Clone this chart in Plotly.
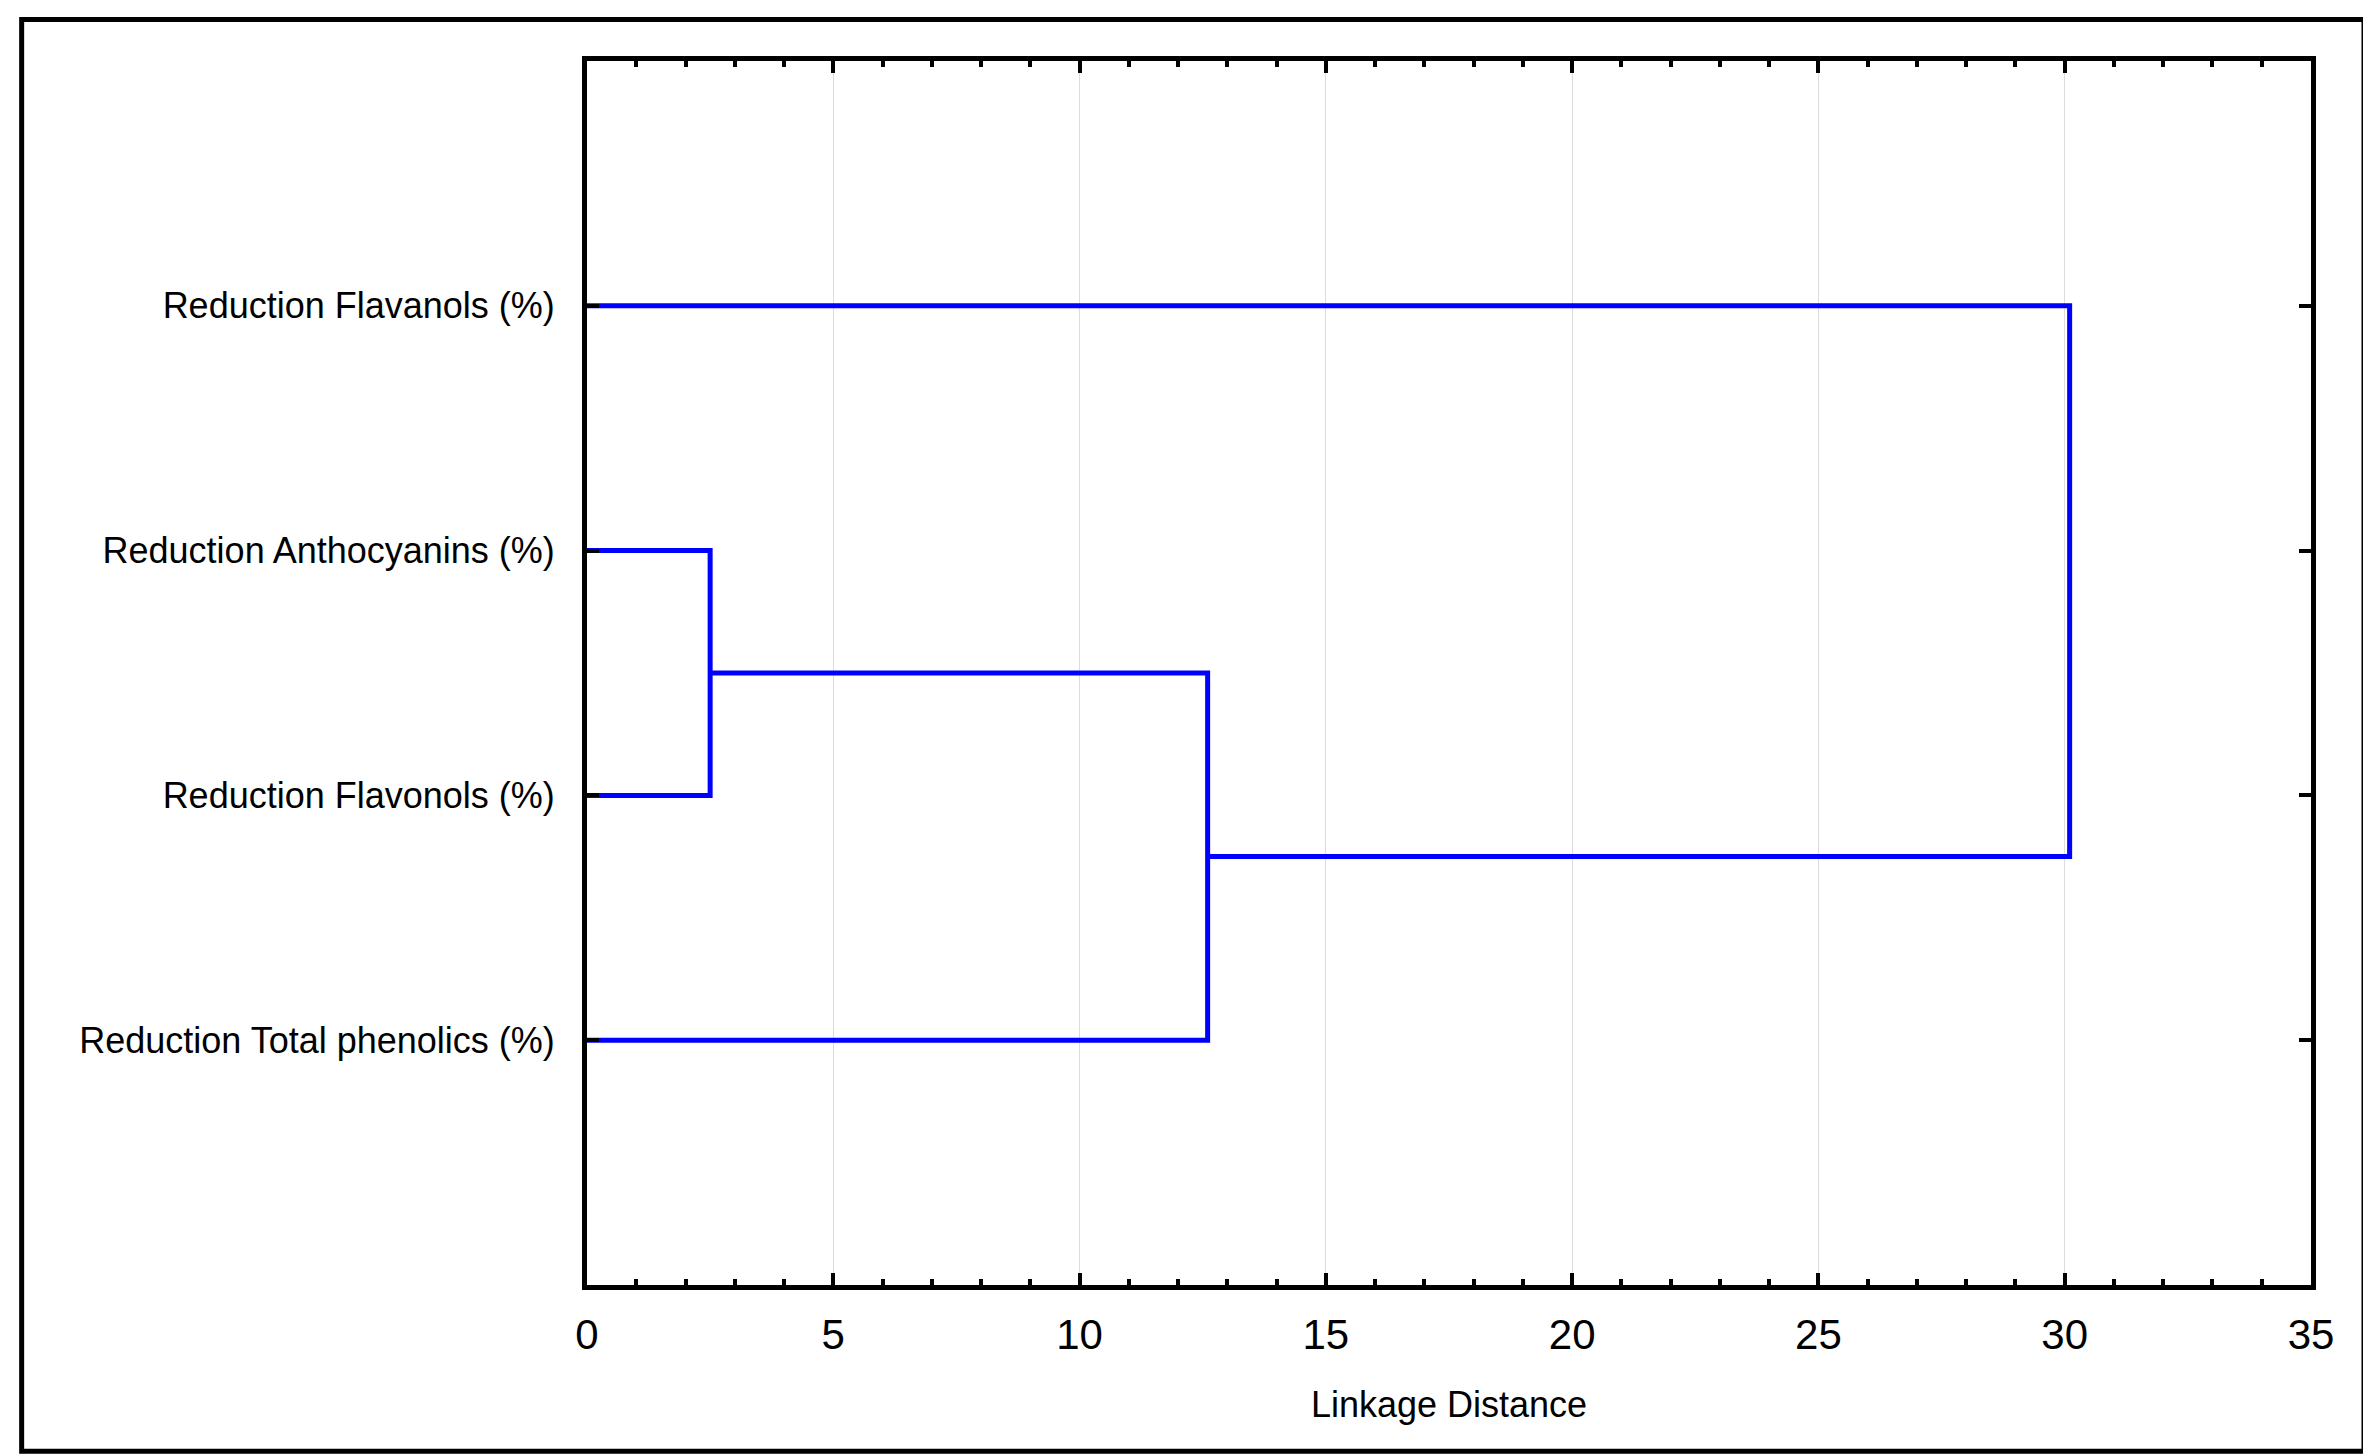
import plotly.graph_objects as go

# Leaves (bottom to top) and their positions on the y axis
leaf_labels = ["Reduction Total phenolics (%)", "Reduction Flavonols (%)",
               "Reduction Anthocyanins (%)", "Reduction Flavanols (%)"]
leaf_pos = [1, 2, 3, 4]

# Merges: (child A, child B, linkage distance); children are leaf indices or "c<k>" for cluster k
merge_a = [1, "c0", "c1"]
merge_b = [2, 0, 3]
merge_dist = [2.5, 12.6, 30.1]

x_ticks = [0, 5, 10, 15, 20, 25, 30, 35]

# build dendrogram paths
node_y = {}
node_x = {}
for i, p in enumerate(leaf_pos):
    node_y[i] = p
    node_x[i] = 0.0

xs, ys = [], []
for k, (a, b, d) in enumerate(zip(merge_a, merge_b, merge_dist)):
    ya, yb = node_y[a], node_y[b]
    xa, xb = node_x[a], node_x[b]
    xs += [xa, d, d, xb, None]
    ys += [ya, ya, yb, yb, None]
    node_y[f"c{k}"] = (ya + yb) / 2
    node_x[f"c{k}"] = d

FONT = "Arial, Liberation Sans, sans-serif"
W, H = 2371, 1455
ML, MR, MT, MB = 579, 67.5, 52.5, 177.5

fig = go.Figure()
fig.add_trace(go.Scatter(x=xs, y=ys, mode="lines",
                         line=dict(color="#0000ff", width=5),
                         hoverinfo="skip", showlegend=False))

fig.update_layout(
    width=W, height=H,
    margin=dict(l=ML, r=MR, t=MT, b=MB, autoexpand=False),
    paper_bgcolor="white", plot_bgcolor="white",
    font=dict(family=FONT, color="black"),
    showlegend=False,
)

fig.update_xaxes(
    range=[0, 35], tickvals=x_ticks, ticktext=[str(v) for v in x_ticks],
    showline=True, linecolor="black", linewidth=5, mirror="ticks",
    ticks="inside", ticklen=12, tickwidth=4, tickcolor="black",
    minor=dict(dtick=1, tick0=0, ticks="inside", ticklen=6, tickwidth=4,
               tickcolor="black", showgrid=False),
    showgrid=True, gridcolor="#dcdcdc", gridwidth=1,
    zeroline=False,
    tickfont=dict(size=42, family=FONT),
    ticklabelstandoff=9,
    title=dict(text="Linkage Distance", font=dict(size=36, family=FONT), standoff=36),
)
fig.update_yaxes(
    range=[0, 5], tickvals=leaf_pos, ticktext=leaf_labels,
    showline=True, linecolor="black", linewidth=5, mirror="ticks",
    ticks="inside", ticklen=12, tickwidth=4, tickcolor="black",
    showgrid=False, zeroline=False,
    tickfont=dict(size=36, family=FONT),
    ticklabelstandoff=20,
)

# outer frame (pixel positions converted to paper coordinates)
pw = W - ML - MR
ph = H - MT - MB
fx0, fx1, fy_top, fy_bot = 13.5, 2356.5, 11, 1444
fig.add_shape(type="rect", xref="paper", yref="paper",
              x0=(fx0 - ML) / pw, x1=(fx1 - ML) / pw,
              y0=(H - MB - fy_bot) / ph, y1=(H - MB - fy_top) / ph,
              line=dict(color="black", width=5), fillcolor="rgba(0,0,0,0)")

fig.write_html("out.html")
